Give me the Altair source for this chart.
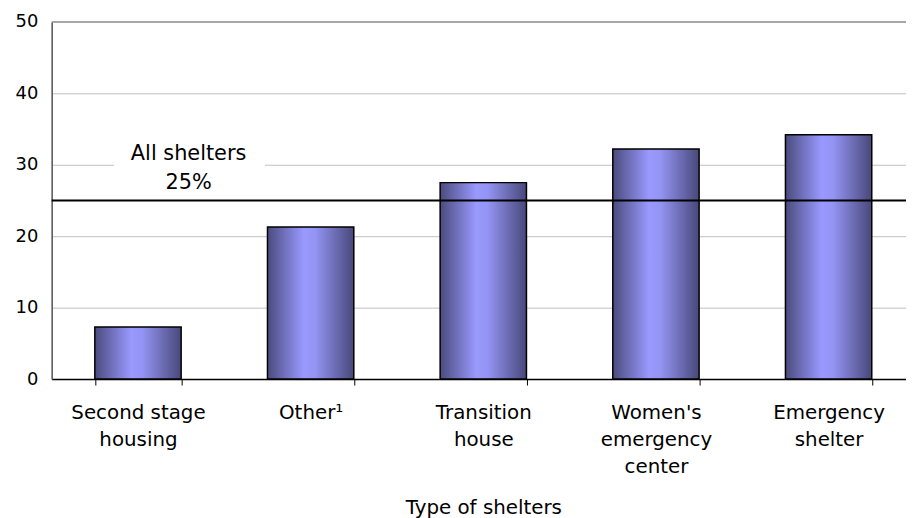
import altair as alt
import pandas as pd

# ---- data ----
categories = ["Second stage|housing", "Other¹", "Transition|house",
              "Women's|emergency|center", "Emergency|shelter"]
values = [7.3, 21.3, 27.5, 32.2, 34.2]
all_shelters = 25
annotation_lines = ["All shelters", "25%"]
y_ticks = [0, 10, 20, 30, 40, 50]
y_max = 50

df = pd.DataFrame({"type": categories, "pct": values})
one = pd.DataFrame({"k": [0]})

FONT = "DejaVu Sans"

gradient = alt.LinearGradient(
    gradient="linear", x1=0, x2=1, y1=0, y2=0,
    stops=[
        alt.GradientStop(color="#4b4b7e", offset=0),
        alt.GradientStop(color="#9999ff", offset=0.42),
        alt.GradientStop(color="#9494f4", offset=0.55),
        alt.GradientStop(color="#48487a", offset=1),
    ],
)

x_enc = alt.X(
    "type:N", sort=categories, title="Type of shelters",
    scale=alt.Scale(range=[0, 870], paddingInner=0.5, paddingOuter=0.25),
    axis=alt.Axis(
        labelAngle=0, labelExpr="split(datum.label, '|')", tickBand="extent",
        labelFont=FONT, labelFontSize=20, labelColor="black", labelPadding=18,
        labelLineHeight=27, domainColor="black", domainWidth=1.5,
        tickColor="black", tickSize=6, tickWidth=1, grid=False,
        titleFont=FONT, titleFontSize=20, titleFontWeight="normal",
        titleColor="black", titleY=135, titleBaseline="alphabetic",
    ),
)
y_enc = alt.Y(
    "pct:Q", title=None,
    scale=alt.Scale(domain=[0, y_max], nice=False),
    axis=alt.Axis(
        values=y_ticks, ticks=False, labelFont=FONT, labelFontSize=18,
        labelColor="black", labelPadding=14, gridColor="#c0c0c0",
        gridWidth=1, domainColor="#555555", domainWidth=1.5,
    ),
)

bars = alt.Chart(df).mark_bar(color=gradient, stroke="black", strokeWidth=1.5).encode(
    x=x_enc, y=y_enc
)

label_bg = alt.Chart(one).mark_rect(fill="white", opacity=1).encode(
    x=alt.value(63), x2=alt.value(215),
    y=alt.value(118), y2=alt.value(176),
)

ref_line = alt.Chart(one).mark_rule(color="black", strokeWidth=2).encode(
    y=alt.datum(all_shelters)
)

top_line = alt.Chart(one).mark_rule(color="#8c8c8c", strokeWidth=1.5).encode(
    y=alt.datum(y_max)
)

label1 = alt.Chart(one).mark_text(
    text=annotation_lines[0], font=FONT, fontSize=21, color="black",
    baseline="middle", align="center", dy=-47,
).encode(x=alt.value(138), y=alt.datum(all_shelters))

label2 = alt.Chart(one).mark_text(
    text=annotation_lines[1], font=FONT, fontSize=21, color="black",
    baseline="middle", align="center", dy=-18,
).encode(x=alt.value(138), y=alt.datum(all_shelters))

chart = (
    alt.layer(bars, label_bg, ref_line, top_line, label1, label2)
    .properties(
        width=861, height=360, autosize="none",
        padding={"left": 44, "top": 12, "right": 0, "bottom": 138},
    )
    .configure_view(stroke=None)
    .configure(background="white")
)

chart.save("out.html", embed_options={"renderer": "svg", "actions": False})
